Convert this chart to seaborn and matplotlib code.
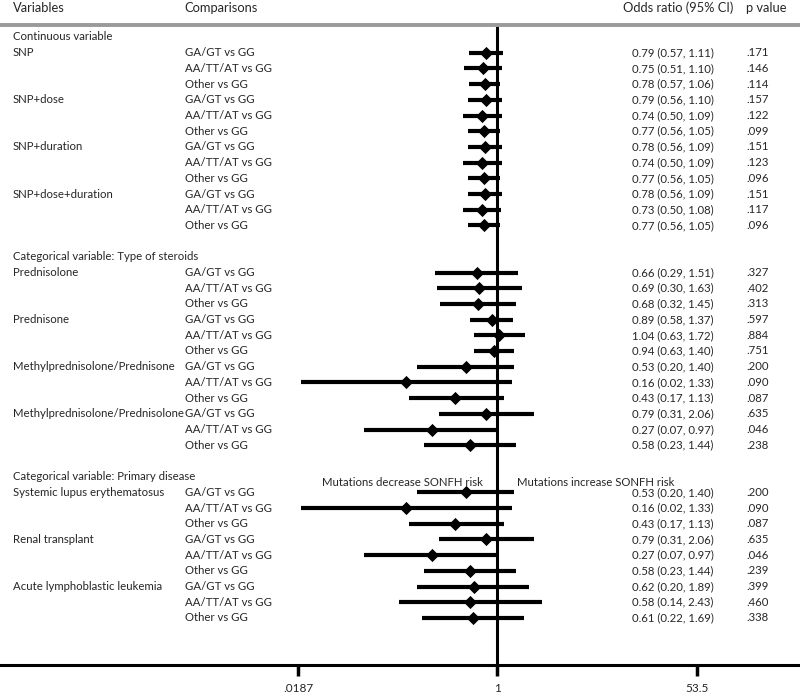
import numpy as np
import pandas as pd
import matplotlib
matplotlib.use('Agg')
import matplotlib.pyplot as plt
import seaborn as sns
from matplotlib.ticker import NullLocator

# ## Dados da figura
sections = ['Continuous variable',
            'Categorical variable: Type of steroids',
            'Categorical variable: Primary disease']
groups = [['SNP', 'SNP+dose', 'SNP+duration', 'SNP+dose+duration'],
          ['Prednisolone', 'Prednisone', 'Methylprednisolone/Prednisone',
           'Methylprednisolone/Prednisolone'],
          ['Systemic lupus erythematosus', 'Renal transplant',
           'Acute lymphoblastic leukemia']]
comparisons = ['GA/GT vs GG', 'AA/TT/AT vs GG', 'Other vs GG']

odds = [0.79, 0.75, 0.78, 0.79, 0.74, 0.77, 0.78, 0.74, 0.77, 0.78, 0.73, 0.77,
        0.66, 0.69, 0.68, 0.89, 1.04, 0.94, 0.53, 0.16, 0.43, 0.79, 0.27, 0.58,
        0.53, 0.16, 0.43, 0.79, 0.27, 0.58, 0.62, 0.58, 0.61]
ci_low = [0.57, 0.51, 0.57, 0.56, 0.50, 0.56, 0.56, 0.50, 0.56, 0.56, 0.50, 0.56,
          0.29, 0.30, 0.32, 0.58, 0.63, 0.63, 0.20, 0.02, 0.17, 0.31, 0.07, 0.23,
          0.20, 0.02, 0.17, 0.31, 0.07, 0.23, 0.20, 0.14, 0.22]
ci_high = [1.11, 1.10, 1.06, 1.10, 1.09, 1.05, 1.09, 1.09, 1.05, 1.09, 1.08, 1.05,
           1.51, 1.63, 1.45, 1.37, 1.72, 1.40, 1.40, 1.33, 1.13, 2.06, 0.97, 1.44,
           1.40, 1.33, 1.13, 2.06, 0.97, 1.44, 1.89, 2.43, 1.69]
pvals = ['.171', '.146', '.114', '.157', '.122', '.099', '.151', '.123', '.096',
         '.151', '.117', '.096',
         '.327', '.402', '.313', '.597', '.884', '.751', '.200', '.090', '.087',
         '.635', '.046', '.238',
         '.200', '.090', '.087', '.635', '.046', '.239', '.399', '.460', '.338']
xticks = [0.0187, 1, 53.5]
xtick_labels = ['.0187', '1', '53.5']

# ## Montando a tabela de linhas
rows = []
headers = []
r = 0
for sec, grp in zip(sections, groups):
    headers.append((r, sec))
    r += 1
    for g in grp:
        for k, c in enumerate(comparisons):
            rows.append({'row': r, 'variable': g if k == 0 else '', 'comparison': c})
            r += 1
    r += 1
df = pd.DataFrame(rows)
df['or'] = odds
df['lo'] = ci_low
df['hi'] = ci_high
df['p'] = pvals

# ## Visualização
sns.set_theme(style='white')
plt.rcParams['font.family'] = ['Lato', 'DejaVu Sans']

fig = plt.figure(figsize=(8, 6.94), dpi=100)
ax = fig.add_axes([0, 29 / 694, 1, 665 / 694])
ax.set_xscale('log')

ax.hlines(df['row'], df['lo'], df['hi'], color='black', lw=3, zorder=2)
sns.scatterplot(data=df, x='or', y='row', marker='D', color='black', s=45,
                edgecolor='black', linewidth=0, legend=False, zorder=3, ax=ax)
ax.vlines(1, -0.68, 41, color='black', lw=2.2, zorder=2)
ax.axhline(-0.76, color='#9a9a9a', lw=2.8)

px = 50.13
ax.set_xlim(np.exp(-497.5 / px), np.exp(302.5 / px))
ax.set_ylim(40.0, -37 / 15.7)

ax.set_xticks(xticks)
ax.set_xticklabels(xtick_labels)
ax.xaxis.set_minor_locator(NullLocator())
ax.set_yticks([])
ax.tick_params(axis='x', direction='out', length=8, width=2.5, labelsize=8.5,
               pad=5, bottom=True, color='black')
ax.set_xlabel('')
ax.set_ylabel('')
for s in ['top', 'left', 'right']:
    ax.spines[s].set_visible(False)
ax.spines['bottom'].set_linewidth(2.2)
ax.spines['bottom'].set_color('black')

tr = ax.get_yaxis_transform()
fs = 8.2
hfs = 9.3
ax.text(0.016, -1.85, 'Variables', transform=tr, fontsize=hfs, va='center')
ax.text(0.231, -1.85, 'Comparisons', transform=tr, fontsize=hfs, va='center')
ax.text(0.779, -1.85, 'Odds ratio (95% CI)', transform=tr, fontsize=hfs, va='center')
ax.text(0.932, -1.85, 'p value', transform=tr, fontsize=hfs, va='center')

for hr, h in headers:
    ax.text(0.016, hr, h, transform=tr, fontsize=fs, va='center')
for _, d in df.iterrows():
    ax.text(0.016, d['row'], d['variable'], transform=tr, fontsize=fs, va='center')
    ax.text(0.231, d['row'], d['comparison'], transform=tr, fontsize=fs, va='center')
    ax.text(0.79, d['row'], f"{d['or']:.2f} ({d['lo']:.2f}, {d['hi']:.2f})",
            transform=tr, fontsize=fs, va='center')
    ax.text(0.9325, d['row'], d['p'], transform=tr, fontsize=fs, va='center')

ax.text(0.604, 28.35, 'Mutations decrease SONFH risk', transform=tr, fontsize=fs,
        va='center', ha='right')
ax.text(0.646, 28.35, 'Mutations increase SONFH risk', transform=tr, fontsize=fs,
        va='center', ha='left')

fig.savefig('out.png', dpi=100)
